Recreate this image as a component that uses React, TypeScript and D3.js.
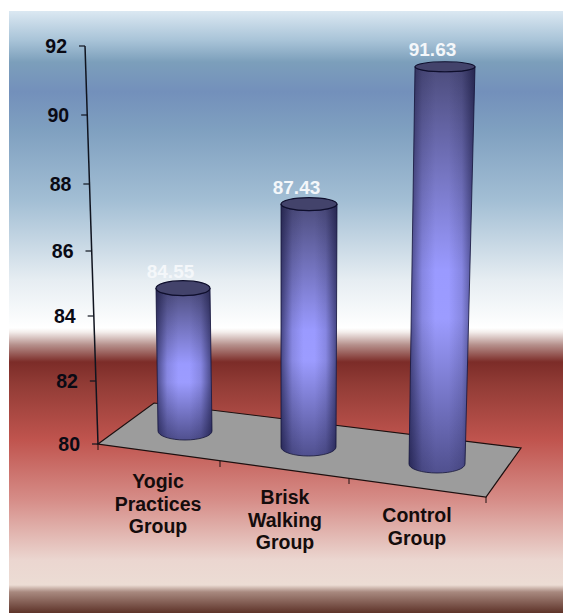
import * as d3 from 'd3';
import React from 'react';

const categories = [['Yogic', 'Practices', 'Group'], ['Brisk', 'Walking', 'Group'], ['Control', 'Group']];
const values = [84.55, 87.43, 91.63];
const valueTicks = [80, 82, 84, 86, 88, 90, 92];
const labelFormat = d3.format('.2f');

const w = 563;
const h = 613;

// the picture is in perspective, so the axis steps get wider towards the top
const yScale = d3.scaleLinear().domain(valueTicks).range([444, 381, 316, 251, 184, 115, 46]);
const axisX = d3.scaleLinear().domain([80, 92]).range([98, 85]);
const frontX = d3.scaleLinear().domain([0, 1, 2, 3]).range([98, 220, 349, 486]);
const frontY = d3.scaleLinear().domain([0, 1, 2, 3]).range([444, 461, 478, 497]);

const topOffset = d3.scaleLinear().domain([0, 1, 2]).range([-10, 1, 8]);
const topX = d3.scaleLinear().domain([0, 1, 2]).range([183, 309, 445]);
const topRx = d3.scaleLinear().domain([0, 1, 2]).range([27, 28, 30]);
const topRy = d3.scaleLinear().domain([0, 1, 2]).range([7.5, 6.5, 5]);
const baseX = d3.scaleLinear().domain([0, 1, 2]).range([185, 308.5, 437]);
const baseRx = d3.scaleLinear().domain([0, 1, 2]).range([27, 27.5, 28]);
const baseY = d3.scaleLinear().domain([0, 1, 2]).range([431, 447, 464]);
const labelX = d3.scaleLinear().domain([0, 1, 2]).range([158, 285, 417]);
const labelY = d3.scaleLinear().domain([0, 1, 2]).range([488, 504, 522]);

const bgStops: [number, string][] = [
  [11, '#dbe8f2'],
  [40, '#a9c4d8'],
  [62, '#7c9fbb'],
  [92, '#7390bb'],
  [130, '#7fa0c0'],
  [200, '#a2bed4'],
  [280, '#e6edf2'],
  [328, '#ffffff'],
  [332, '#f4eeec'],
  [345, '#b58f8b'],
  [362, '#7c2c28'],
  [385, '#923c36'],
  [440, '#c0544e'],
  [500, '#d68d88'],
  [560, '#ebd6d0'],
  [585, '#ecdcd4'],
  [592, '#a8897f'],
  [613, '#5e3329'],
];

const font = '"Liberation Sans", Arial, sans-serif';

export default function App() {
  const floorPath = d3.line()([
    [frontX(0), frontY(0)],
    [154, 403],
    [521, 448],
    [frontX(3), frontY(3)],
  ]) + 'Z';

  return (
    <svg width={w} height={h} style={{ position: 'absolute', left: 0, top: 0, background: 'white' }}>
      <defs>
        <linearGradient id='bg' gradientUnits='userSpaceOnUse' x1={0} y1={11} x2={0} y2={613}>
          {bgStops.map(([y, c]) => (
            <stop key={y} offset={(y - 11) / (613 - 11)} stopColor={c} />
          ))}
        </linearGradient>
        <linearGradient id='barV' x1={0} y1={0} x2={0} y2={1}>
          <stop offset={0} stopColor='#4c4c7c' />
          <stop offset={0.5} stopColor='#9a9aff' />
          <stop offset={0.62} stopColor='#9c9cff' />
          <stop offset={1} stopColor='#50508f' />
        </linearGradient>
        <linearGradient id='barH' x1={0} y1={0} x2={1} y2={0}>
          <stop offset={0} stopColor='#0c0c30' stopOpacity={0.6} />
          <stop offset={0.2} stopColor='#0c0c30' stopOpacity={0.14} />
          <stop offset={0.4} stopColor='#0c0c30' stopOpacity={0} />
          <stop offset={0.6} stopColor='#0c0c30' stopOpacity={0} />
          <stop offset={0.8} stopColor='#0c0c30' stopOpacity={0.14} />
          <stop offset={1} stopColor='#0c0c30' stopOpacity={0.6} />
        </linearGradient>
      </defs>

      <rect x={9} y={11} width={w - 9} height={h - 11} fill='url(#bg)' />

      <path d={floorPath} fill='#9c9c9c' stroke='#1c1010' strokeWidth={1.2} />

      {/* value axis */}
      <line x1={axisX(92)} y1={yScale(92)} x2={axisX(80)} y2={yScale(80)} stroke='#10141f' strokeWidth={1.5} />
      {valueTicks.map((t) => (
        <g key={t}>
          <line x1={axisX(t) - 6} x2={axisX(t)} y1={yScale(t)} y2={yScale(t)} stroke='#10141f' strokeWidth={1.2} />
          <text
            x={axisX(t) - 18}
            y={yScale(t) + 7}
            textAnchor='end'
            fontFamily={font}
            fontWeight='bold'
            fontSize={19.5}
            fill='#0a0a14'>
            {t}
          </text>
        </g>
      ))}

      {/* category axis ticks */}
      {[0, 1, 2, 3].map((i) => (
        <line key={i} x1={frontX(i)} x2={frontX(i)} y1={frontY(i)} y2={frontY(i) + 6} stroke='#1c1010' strokeWidth={1} />
      ))}

      {values.map((v, i) => {
        const top = yScale(v) + topOffset(i);
        const xt = topX(i);
        const xb = baseX(i);
        const rt = topRx(i);
        const rb = baseRx(i);
        const ry = topRy(i);
        const by = baseY(i);
        const body =
          `M${xt - rt},${top} L${xb - rb},${by} A${rb},9 0 0 0 ${xb + rb},${by} ` +
          `L${xt + rt},${top} A${rt},${ry} 0 0 1 ${xt - rt},${top} Z`;
        return (
          <g key={i}>
            <path d={body} fill='url(#barV)' />
            <path d={body} fill='url(#barH)' stroke='#14143a' strokeWidth={0.8} />
            <ellipse cx={xt} cy={top} rx={rt} ry={ry} fill='#43436b' stroke='#0e0e2c' strokeWidth={1.2} />
            <text
              x={xt - 12.5}
              y={top - 10.5}
              textAnchor='middle'
              fontFamily={font}
              fontWeight='bold'
              fontSize={19}
              fill='#f4f7fa'>
              {labelFormat(v)}
            </text>
          </g>
        );
      })}

      {categories.map((lines, i) => (
        <text key={i} textAnchor='middle' fontFamily={font} fontWeight='bold' fontSize={19.5} fill='#140c0c'>
          {lines.map((s, j) => (
            <tspan key={j} x={labelX(i)} y={labelY(i) + j * 22.7}>
              {s}
            </tspan>
          ))}
        </text>
      ))}
    </svg>
  );
}
